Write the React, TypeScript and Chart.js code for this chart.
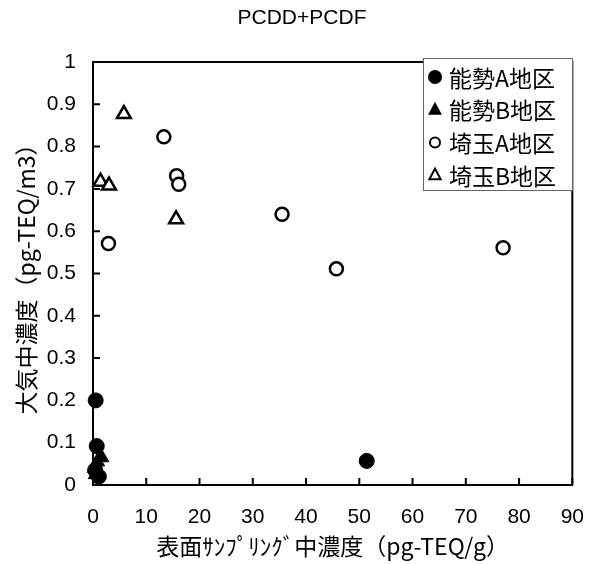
import React, { useEffect, useRef } from "react";
import { Chart, registerables } from "chart.js";

Chart.register(...registerables);

const TITLE = "PCDD+PCDF";
const X_TITLE = "表面ｻﾝﾌﾟﾘﾝｸﾞ中濃度（pg-TEQ/g）";
const Y_TITLE = "大気中濃度（pg-TEQ/m3）";

const SERIES_NAMES = ["能勢A地区", "能勢B地区", "埼玉A地区", "埼玉B地区"];

const notoA_x = [0.5, 0.7, 1.1, 0.4, 51.4];
const notoA_y = [0.2, 0.092, 0.02, 0.035, 0.057];

const notoB_x = [0.3, 0.8, 1.6, 0.5];
const notoB_y = [0.04, 0.055, 0.065, 0.025];

const saitamaA_x = [2.9, 13.3, 15.7, 16.1, 35.5, 45.7, 77.0];
const saitamaA_y = [0.571, 0.823, 0.731, 0.711, 0.64, 0.511, 0.561];

const saitamaB_x = [1.4, 3.0, 5.8, 15.6];
const saitamaB_y = [0.717, 0.708, 0.877, 0.628];

const X_MIN = 0;
const X_MAX = 90;
const X_STEP = 10;
const Y_MIN = 0;
const Y_MAX = 1;
const Y_STEP = 0.1;

const toPoints = (xs: number[], ys: number[]) => xs.map((x, i) => ({ x, y: ys[i] }));

const TICK_FONT = "'Liberation Sans', Arial, sans-serif";
const CJK_FONT = "'Noto Sans CJK JP', sans-serif";
const TICK_SIZE = 21;

Chart.defaults.font.family = TICK_FONT;
Chart.defaults.font.size = TICK_SIZE;
Chart.defaults.color = "#000";

const framePlugin = {
  id: "frame",
  afterDraw(chart: any) {
    const { ctx, chartArea, scales } = chart;
    const { left, right, top, bottom } = chartArea;
    ctx.save();
    ctx.strokeStyle = "#000";
    ctx.lineWidth = 2;
    ctx.beginPath();
    ctx.moveTo(left, top);
    ctx.lineTo(right, top);
    ctx.lineTo(right, bottom);
    ctx.stroke();
    const tl = 7;
    ctx.beginPath();
    scales.x.ticks.forEach((t: any) => {
      const px = scales.x.getPixelForValue(t.value);
      ctx.moveTo(px, bottom);
      ctx.lineTo(px, bottom - tl);
    });
    scales.y.ticks.forEach((t: any) => {
      const py = scales.y.getPixelForValue(t.value);
      ctx.moveTo(left, py);
      ctx.lineTo(left + tl, py);
    });
    ctx.stroke();

    ctx.fillStyle = "#000";
    ctx.font = `21px ${TICK_FONT}`;
    ctx.textAlign = "center";
    ctx.textBaseline = "middle";
    ctx.fillText(TITLE, chart.width / 2, 18);

    const lx = 423, ly = 58, lw = 149, lh = 132;
    ctx.fillStyle = "#fff";
    ctx.fillRect(lx, ly, lw, lh);
    ctx.strokeStyle = "#666";
    ctx.lineWidth = 1;
    ctx.strokeRect(lx + 0.5, ly + 0.5, lw, lh);
    const rowH = 32.7;
    chart.data.datasets.forEach((ds: any, i: number) => {
      const cy = ly + 19 + i * rowH;
      const cx = 435;
      ctx.fillStyle = "#000";
      ctx.strokeStyle = "#000";
      const filled = i < 2;
      const tri = i % 2 === 1;
      ctx.lineWidth = 2;
      ctx.beginPath();
      if (tri) {
        const r = filled ? 8 : 6.5;
        ctx.moveTo(cx, cy - r);
        ctx.lineTo(cx + r * 0.866, cy + r * 0.5 + 1);
        ctx.lineTo(cx - r * 0.866, cy + r * 0.5 + 1);
        ctx.closePath();
      } else {
        ctx.arc(cx, cy, filled ? 7 : 5, 0, Math.PI * 2);
      }
      if (filled) ctx.fill();
      else ctx.stroke();
      ctx.fillStyle = "#000";
      ctx.font = `23px ${CJK_FONT}`;
      ctx.textAlign = "left";
      ctx.textBaseline = "middle";
      ctx.fillText(ds.label, 449, cy + 1);
    });
    ctx.restore();
  },
};

export default function App() {
  const ref = useRef<HTMLCanvasElement | null>(null);
  useEffect(() => {
    if (!ref.current) return;
    const common = { clip: false as any, showLine: false };
    const chart = new Chart(ref.current, {
      type: "scatter",
      data: {
        datasets: [
          {
            ...common,
            label: SERIES_NAMES[0],
            data: toPoints(notoA_x, notoA_y),
            pointStyle: "circle",
            pointRadius: 7.5,
            backgroundColor: "#000",
            borderColor: "#000",
            borderWidth: 1,
          },
          {
            ...common,
            label: SERIES_NAMES[1],
            data: toPoints(notoB_x, notoB_y),
            pointStyle: "triangle",
            pointRadius: 8.5,
            backgroundColor: "#000",
            borderColor: "#000",
            borderWidth: 1,
          },
          {
            ...common,
            label: SERIES_NAMES[2],
            data: toPoints(saitamaA_x, saitamaA_y),
            pointStyle: "circle",
            pointRadius: 6.5,
            backgroundColor: "#fff",
            borderColor: "#000",
            borderWidth: 2.5,
          },
          {
            ...common,
            label: SERIES_NAMES[3],
            data: toPoints(saitamaB_x, saitamaB_y),
            pointStyle: "triangle",
            pointRadius: 8,
            backgroundColor: "#fff",
            borderColor: "#000",
            borderWidth: 2.5,
          },
        ],
      },
      options: {
        responsive: true,
        maintainAspectRatio: false,
        animation: false,
        layout: { padding: { top: 62, right: 23, left: 0, bottom: 0 } },
        plugins: {
          legend: { display: false },
          title: { display: false },
          tooltip: { enabled: false },
        },
        scales: {
          x: {
            type: "linear",
            min: X_MIN,
            max: X_MAX,
            grid: { display: false, drawTicks: false },
            border: { display: true, color: "#000", width: 2 },
            ticks: {
              stepSize: X_STEP,
              color: "#000",
              font: { family: TICK_FONT, size: TICK_SIZE, weight: "normal" },
              padding: 20,
              maxRotation: 0,
            },
            title: {
              display: true,
              text: X_TITLE,
              color: "#000",
              font: { family: CJK_FONT, size: 23 },
              padding: { top: 0, bottom: 4 },
            },
            afterFit(scale: any) {
              scale.height = 79;
            },
          },
          y: {
            type: "linear",
            min: Y_MIN,
            max: Y_MAX,
            grid: { display: false, drawTicks: false },
            border: { display: true, color: "#000", width: 2 },
            ticks: {
              stepSize: Y_STEP,
              color: "#000",
              font: { family: TICK_FONT, size: TICK_SIZE, weight: "normal" },
              padding: 17,
              callback: (v: any) => String(Number(Number(v).toFixed(1))),
            },
            title: {
              display: true,
              text: Y_TITLE,
              color: "#000",
              font: { family: CJK_FONT, size: 23 },
              padding: { top: 12, bottom: 0 },
            },
            afterFit(scale: any) {
              scale.width = 93;
            },
          },
        },
      },
      plugins: [framePlugin],
    });
    return () => chart.destroy();
  }, []);
  return (
    <div style={{ position: "absolute", left: 0, top: 0, width: 604, height: 564, background: "#fff" }}>
      <canvas ref={ref} />
    </div>
  );
}
